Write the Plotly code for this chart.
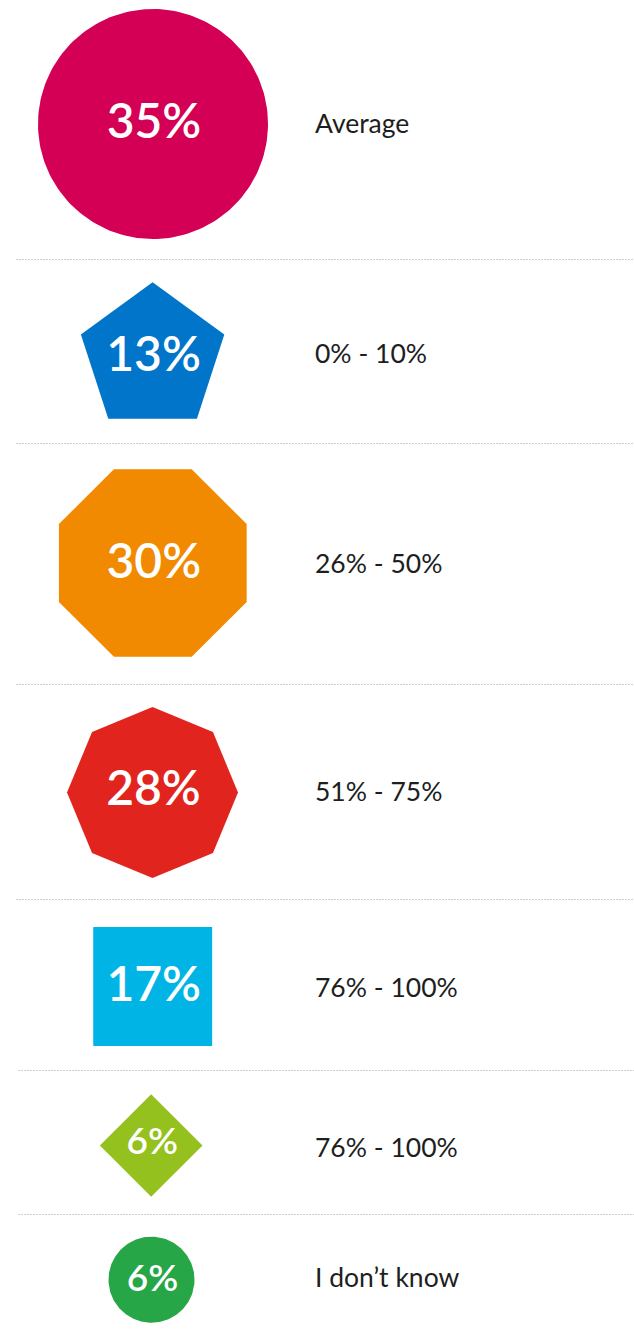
import numpy as np
import plotly.graph_objects as go

# ---- data ----
values = [35, 13, 30, 28, 17, 6, 6]
value_labels = [f"{v}%" for v in values]
categories = ["Average", "0% - 10%", "26% - 50%", "51% - 75%",
              "76% - 100%", "76% - 100%", "I don’t know"]

# ---- styling / layout ----
colors = ["#D40055", "#0075C9", "#F18A00", "#E2241F", "#00B5E5", "#95C11F", "#26A647"]
sides = [0, 5, 8, 8, 4, 4, 0]            # 0 = circle
start_angle = [0, 90, 22.5, 90, 45, 90, 0]
radius = [115, 75.4, 101.6, 85.5, 84.1, 51.3, 43]
row_cy = [124, 357.7, 563, 792.5, 986.5, 1145.5, 1279.7]
row_cx = [153, 152.6, 152.8, 152.5, 152.7, 151.2, 151.5]
num_y = [126, 358.5, 565.5, 793, 988.5, 1145, 1282]
num_size = [48, 48, 48, 48, 48, 37, 37]
label_y = [126, 356.5, 566.5, 794, 990, 1150, 1280]
sep_y = [259.5, 443.5, 684.5, 899.5, 1070.5, 1214.5]
sep_x0 = [16, 16, 16, 16, 18, 18]

W, H = 634, 1335
fig = go.Figure()

def poly(cx, cy, r, n, a0):
    if n == 0:
        t = np.linspace(0, 2 * np.pi, 181)
    else:
        t = np.deg2rad(a0) + np.arange(n + 1) * 2 * np.pi / n
    return cx + r * np.cos(t), cy - r * np.sin(t)

for i in range(len(values)):
    xs, ys = poly(row_cx[i], row_cy[i], radius[i], sides[i], start_angle[i])
    fig.add_trace(go.Scatter(x=xs, y=ys, mode="lines", fill="toself",
                             fillcolor=colors[i], line=dict(width=0, color=colors[i]),
                             hoverinfo="skip"))

for i in range(len(sep_y)):
    fig.add_trace(go.Scatter(x=[sep_x0[i], W], y=[sep_y[i], sep_y[i]], mode="lines",
                             line=dict(color="#cdcdcd", width=1, dash="2px,1px"),
                             hoverinfo="skip"))

fig.add_trace(go.Scatter(x=[c + 1 for c in row_cx], y=num_y,
                         mode="text", text=value_labels,
                         textposition="middle center",
                         textfont=dict(family="Lato", size=num_size, color="white", weight=600),
                         hoverinfo="skip"))

fig.add_trace(go.Scatter(x=[315] * len(categories), y=label_y, mode="text",
                         text=categories, textposition="middle right",
                         textfont=dict(family="Lato", size=26.5, color="#1e1e1e", weight=400),
                         hoverinfo="skip"))

fig.update_layout(width=W, height=H, margin=dict(l=0, r=0, t=0, b=0),
                  paper_bgcolor="white", plot_bgcolor="white", showlegend=False,
                  hovermode=False)
fig.update_xaxes(range=[0, W], visible=False, fixedrange=True)
fig.update_yaxes(range=[H, 0], visible=False, fixedrange=True)

fig.write_html("out.html", config={"displayModeBar": False},
               post_script="document.body.style.margin='0';document.body.style.overflow='hidden';")
